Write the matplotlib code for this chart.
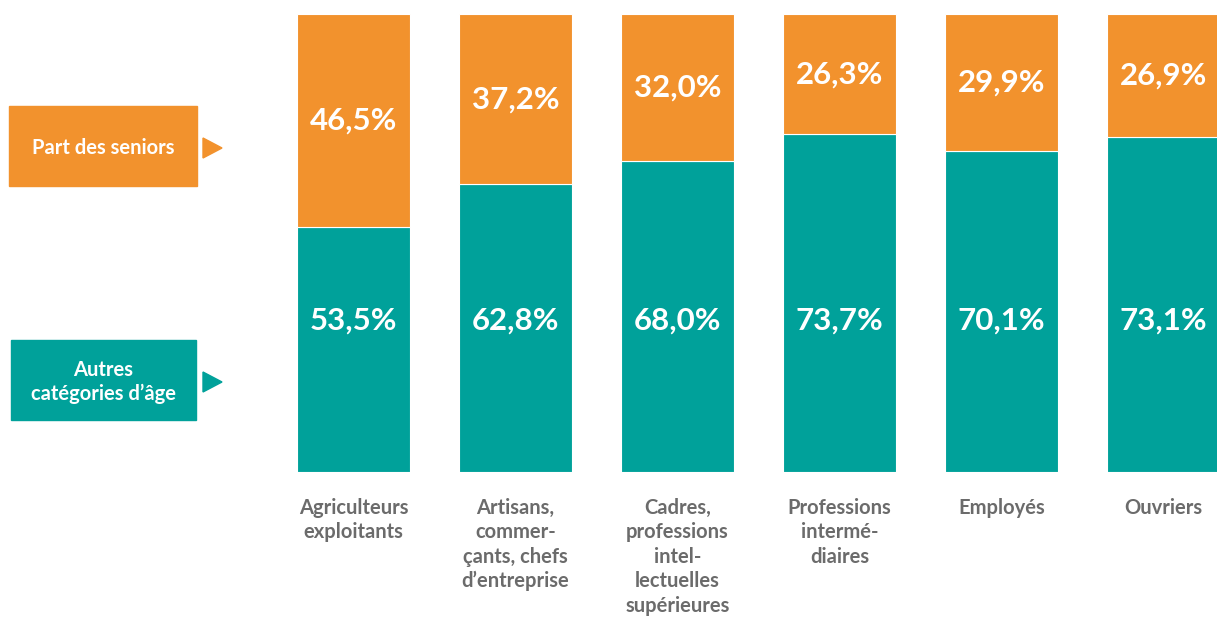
import numpy as np
import matplotlib.pyplot as plt
from matplotlib.patches import Rectangle, Polygon

# ---- données ----
categories = [
    "Agriculteurs\nexploitants",
    "Artisans,\ncommer-\nçants, chefs\nd\u2019entreprise",
    "Cadres,\nprofessions\nintel-\nlectuelles\nsupérieures",
    "Professions\ninterm\u00e9-\ndiaires",
    "Employés",
    "Ouvriers",
]
autres = [53.5, 62.8, 68.0, 73.7, 70.1, 73.1]
seniors = [46.5, 37.2, 32.0, 26.3, 29.9, 26.9]
legend_labels = ["Part des seniors", "Autres\ncatégories d\u2019âge"]

ORANGE = "#F2922D"
TEAL = "#00A19A"
GREY = "#6B6B6B"

plt.rcParams['font.family'] = ['Lato', 'DejaVu Sans']

W, H = 1217, 619
fig = plt.figure(figsize=(W / 100, H / 100), dpi=100)

# axes sur toute la largeur, unités x = pas entre barres
step = 162.0
x0 = 353.5
ax = fig.add_axes([0, (H - 472) / H, 1, 458 / H])
ax.set_xlim(-x0 / step, (W - x0) / step)
ax.set_ylim(0, 100)
ax.axis('off')

x = np.arange(len(categories))
bw = 113 / step
ax.bar(x, autres, width=bw, color=TEAL, edgecolor='white', linewidth=0.8)
ax.bar(x, seniors, bottom=autres, width=bw, color=ORANGE, edgecolor='white', linewidth=0.8)

for i in range(len(categories)):
    ax.text(x[i], autres[i] + seniors[i] / 2, f"{seniors[i]:.1f}%".replace('.', ','),
            ha='center', va='center', color='white', fontsize=22.5, fontweight='bold')
    ax.text(x[i], 33, f"{autres[i]:.1f}%".replace('.', ','),
            ha='center', va='center', color='white', fontsize=22.5, fontweight='bold')
    ax.text(x[i], -5.6, categories[i], ha='center', va='top', color=GREY,
            fontsize=14.5, fontweight='bold', linespacing=1.28)

# ---- légende (boîtes à gauche) ----
def legend_box(x1, y1, x2, y2, color, label, ty):
    fig.patches.append(Rectangle((x1 / W, 1 - y2 / H), (x2 - x1) / W, (y2 - y1) / H,
                                 transform=fig.transFigure, color=color))
    fig.patches.append(Polygon([(203 / W, 1 - (ty - 10) / H), (203 / W, 1 - (ty + 10) / H),
                                (222 / W, 1 - ty / H)], closed=True,
                               transform=fig.transFigure, color=color))
    fig.text((x1 + x2) / 2 / W, 1 - ty / H, label, ha='center', va='center',
             color='white', fontsize=14.5, fontweight='bold', linespacing=1.2)

legend_box(9, 106, 197, 186, ORANGE, legend_labels[0], 148)
legend_box(11, 340, 196, 420, TEAL, legend_labels[1], 382)

fig.savefig("out.png", dpi=100, facecolor='white')
